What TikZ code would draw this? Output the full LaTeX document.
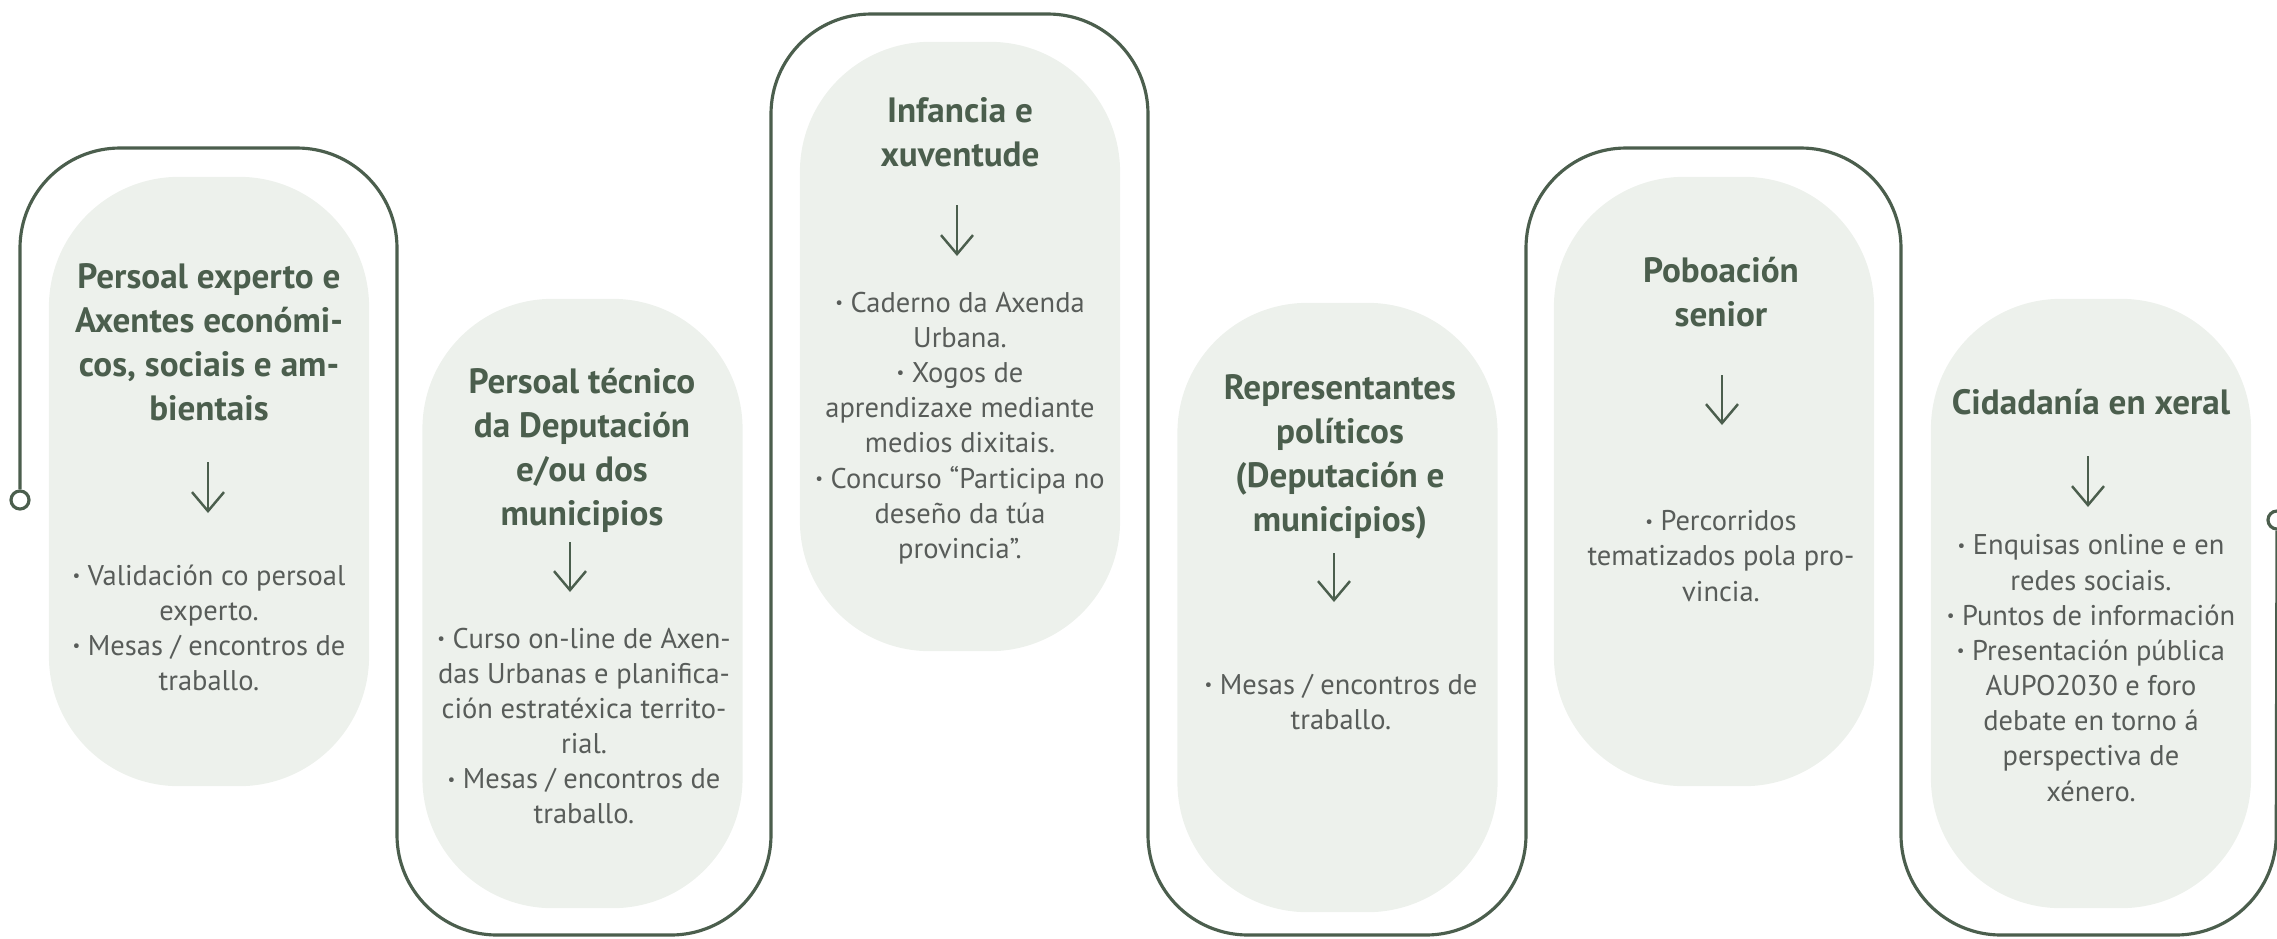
\documentclass[tikz,border=0pt]{standalone}
\usepackage{fontspec}
\setmainfont{PT Sans}
\usepackage{xcolor}
\usepackage{graphicx}
\usepackage{tikz}
\usetikzlibrary{arrows.meta,positioning}
\definecolor{darkgreen}{HTML}{4B5E4D}
\definecolor{palegreen}{HTML}{EDF1EC}
\definecolor{textgrey}{HTML}{585C59}
\newcommand{\itemdot}{\raisebox{0.13em}{\scalebox{0.6}{•}}\ }

\begin{document}
\begin{tikzpicture}[x=0.01cm,y=-0.01cm,
    pill/.style={fill=palegreen, rounded corners=1.3cm, minimum width=3.2cm, minimum height=6.09cm},
    headtext/.style={align=center, text=darkgreen, font=\fontsize{10}{12.5}\selectfont\bfseries},
    listtext/.style={align=center, text=textgrey, font=\fontsize{8.1}{10}\selectfont},
    down/.style={darkgreen, line width=0.35pt, -{Straight Barb[length=5.4pt,width=9.1pt,line width=0.7pt]}},
    dot/.style={circle, draw=darkgreen, fill=white, line width=0.9pt, minimum size=0.18cm, inner sep=0pt}]
      \useasboundingbox (0,0) rectangle (2277,938);

      \node[pill] (P1) at (209,481.5) {};
      \node[pill] (P2) at (582.5,603.5) {};
      \node[pill] (P3) at (960,346.5) {};
      \node[pill] (P4) at (1337.5,607.5) {};
      \node[pill] (P5) at (1714,481.5) {};
      \node[pill] (P6) at (2091,603.5) {};

      \node[dot] (start) at (20,500) {};
      \node[dot] (finish) at (2277,520) {};
      \draw[darkgreen, line width=0.9pt, rounded corners=1cm] (start.north) -- (20,148) -- (397,148) -- (397,935)
        -- (771,935) -- (771,14) -- (1148,14) -- (1148,935) -- (1526,935) -- (1526,148) -- (1901,148)
        -- (1901,935) -- (2276,935) -- (finish.south);

      \node[headtext] (T1) at (209,342) {Persoal experto e\\Axentes económi-\\cos, sociais e am-\\bientais};
      \node[headtext] (T2) at (582,450) {Persoal técnico\\da Deputación\\e/ou dos\\municipios};
      \node[headtext] (T3) at (960,132) {Infancia e\\xuventude};
      \node[headtext] (T4) at (1340,457) {Representantes\\políticos\\(Deputación e\\municipios)};
      \node[headtext] (T5) at (1721,292) {Poboación\\senior};
      \node[headtext] (T6) at (2091,402) {Cidadanía en xeral};

      \coordinate (A1) at (208,462);
      \coordinate (A2) at (570,542);
      \coordinate (A3) at (957,205);
      \coordinate (A4) at (1334,553);
      \coordinate (A5) at (1722,375);
      \coordinate (A6) at (2088,456);
      \draw[down] (A1) -- ++(0,51);
      \draw[down] (A2) -- ++(0,50);
      \draw[down] (A3) -- ++(0,51);
      \draw[down] (A4) -- ++(0,49);
      \draw[down] (A5) -- ++(0,50);
      \draw[down] (A6) -- ++(0,51);

      \node[listtext] (B1) at (209,628) {\itemdot Validación co persoal\\experto.\\\itemdot Mesas / encontros de\\traballo.};
      \node[listtext] (B2) at (584,726) {\itemdot Curso on-line de Axen-\\das Urbanas e planifica-\\ción estratéxica territo-\\rial.\\\itemdot Mesas / encontros de\\traballo.};
      \node[listtext] (B3) at (960,428) {\itemdot Caderno da Axenda\\Urbana.\\\itemdot Xogos de\\aprendizaxe mediante\\medios dixitais.\\\itemdot Concurso “Participa no\\deseño da túa\\provincia”.};
      \node[listtext] (B4) at (1341,702) {\itemdot Mesas / encontros de\\traballo.};
      \node[listtext] (B5) at (1721,556) {\itemdot Percorridos\\tematizados pola pro-\\vincia.};
      \node[listtext] (B6) at (2091,668) {\itemdot Enquisas online e en\\redes sociais.\\\itemdot Puntos de información\\\itemdot Presentación pública\\AUPO2030 e foro\\debate en torno á\\perspectiva de\\xénero.};
\end{tikzpicture}
\end{document}
